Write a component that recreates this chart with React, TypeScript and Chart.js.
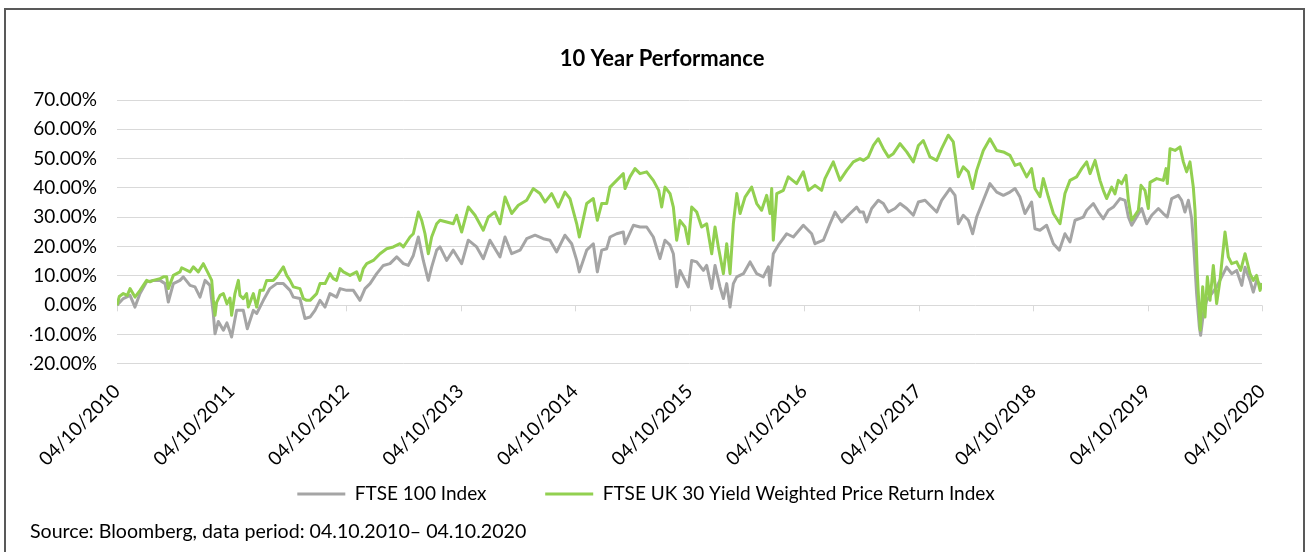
import React, { useEffect, useRef } from 'react';
import { Chart, registerables } from 'chart.js';

Chart.register(...registerables);

const xTickLabels = [
  '04/10/2010', '04/10/2011', '04/10/2012', '04/10/2013', '04/10/2014', '04/10/2015',
  '04/10/2016', '04/10/2017', '04/10/2018', '04/10/2019', '04/10/2020',
];

// years elapsed since 04/10/2010 for each FTSE 100 reading
const ftse100Years = [
  0, 0.055, 0.114, 0.157, 0.201, 0.259, 0.317, 0.376, 0.420, 0.448, 0.492, 0.550, 0.579, 0.638, 0.681,
  0.725, 0.769, 0.812, 0.841, 0.856, 0.885, 0.929, 0.960, 0.987, 1.001, 1.045, 1.103, 1.138, 1.191, 1.220,
  1.278, 1.335, 1.394, 1.453, 1.511, 1.540, 1.598, 1.642, 1.686, 1.729, 1.773, 1.817, 1.860, 1.918, 1.948,
  2.006, 2.064, 2.122, 2.166, 2.210, 2.268, 2.326, 2.384, 2.443, 2.501, 2.544, 2.588, 2.632, 2.675, 2.719,
  2.748, 2.792, 2.821,
  2.879, 2.937, 3.010, 3.068, 3.141, 3.199, 3.257, 3.345, 3.389, 3.447, 3.520, 3.578, 3.651, 3.723, 3.781,
  3.840, 3.912, 3.971, 4.015, 4.038, 4.102, 4.160, 4.195, 4.233, 4.277, 4.306, 4.364, 4.422, 4.437, 4.510,
  4.568, 4.626, 4.684, 4.742, 4.786, 4.830, 4.859, 4.888, 4.917, 4.961, 4.990, 5.019, 5.063, 5.121, 5.150,
  5.194, 5.223, 5.266, 5.296, 5.325, 5.354, 5.383, 5.413, 5.471, 5.529, 5.587, 5.645, 5.689, 5.703, 5.732,
  5.776, 5.849, 5.907, 5.994, 6.067, 6.096, 6.169, 6.227, 6.271, 6.329, 6.402, 6.460, 6.489,
  6.518, 6.547, 6.591, 6.649, 6.693, 6.737, 6.795, 6.839, 6.897, 6.955, 6.999, 7.057, 7.100, 7.159, 7.202,
  7.275, 7.319, 7.348, 7.391, 7.435, 7.473, 7.508, 7.566, 7.624, 7.683, 7.741, 7.799, 7.843, 7.886, 7.930,
  7.988, 8.017, 8.061, 8.119, 8.178, 8.230, 8.279, 8.323, 8.367, 8.440,
  8.469, 8.527, 8.571, 8.614, 8.658, 8.702, 8.760, 8.804, 8.833, 8.862, 8.905, 8.949, 8.993, 9.037, 9.095,
  9.138, 9.173, 9.211, 9.269, 9.298, 9.327, 9.357, 9.386, 9.406, 9.429, 9.453, 9.464, 9.488, 9.517, 9.561,
  9.604, 9.648, 9.691, 9.735, 9.779, 9.823, 9.852, 9.895, 9.924, 9.953, 10.0,
];

// FTSE 100 Index performance (%)
const ftse100Values = [
  0.0, 2.3, 3.4, -0.6, 4.0, 8.0, 8.5, 8.5, 7.4, 1.1, 7.4, 8.5, 9.7, 6.8, 6.3,
  2.8, 8.5, 6.8, -2.8, -9.7, -5.5, -8.5, -6.0, -9.0, -10.8, -1.7, -1.7, -8.0, -1.7, -2.8,
  1.7, 5.7, 7.4, 7.4, 5.1, 2.8, 2.3, -4.5, -4.0, -1.7, 1.7, -0.6, 4.0, 2.8, 5.7,
  5.1, 5.1, 1.7, 5.7, 7.4, 10.8, 13.6, 14.2, 16.5, 14.2, 13.6, 17.0, 23.3, 15.3, 8.5,
  13.0, 18.8, 19.9,
  15.3, 18.8, 14.2, 22.2, 19.9, 15.9, 22.2, 16.5, 23.3, 17.6, 18.8, 22.7, 23.9, 22.7, 22.2,
  18.2, 23.9, 21.0, 15.3, 11.4, 18.8, 21.0, 11.4, 18.8, 19.3, 23.3, 24.4, 25.0, 21.0, 27.3,
  26.7, 26.7, 23.3, 15.9, 22.2, 20.5, 17.6, 6.3, 11.9, 8.5, 6.3, 15.3, 14.8, 11.9, 13.6,
  5.7, 13.6, 6.3, 2.3, 7.4, -0.6, 7.4, 9.7, 10.8, 14.8, 10.8, 9.7, 13.1, 6.8, 17.6,
  20.5, 24.4, 23.3, 27.3, 24.4, 21.0, 22.2, 27.8, 31.8, 28.4, 31.3, 33.5, 31.8,
  31.8, 28.4, 33.0, 35.8, 34.7, 31.8, 33.0, 34.7, 33.0, 30.7, 35.2, 35.8, 34.1, 31.8, 35.8,
  39.8, 37.5, 27.8, 30.7, 29.0, 24.4, 30.1, 35.8, 41.5, 38.6, 37.5, 38.6, 39.8, 36.9, 31.3,
  35.2, 26.1, 25.6, 27.3, 21.0, 18.8, 24.4, 21.6, 29.0, 30.1,
  32.4, 34.7, 31.8, 29.5, 32.4, 33.5, 36.4, 35.8, 30.1, 27.3, 30.1, 33.0, 27.8, 30.7, 33.0,
  31.3, 30.1, 36.4, 37.5, 35.8, 31.8, 35.8, 29.5, 18.8, 4.0, -7.4, -10.2, -2.8, 1.7, 4.0,
  6.3, 9.7, 13.0, 10.8, 11.9, 6.8, 13.0, 8.5, 4.5, 8.5, 6.3,
];

// years elapsed since 04/10/2010 for each FTSE UK 30 Yield Weighted reading
const yieldYears = [
  0, 0.02, 0.055, 0.09, 0.114, 0.157, 0.201, 0.259, 0.288, 0.317, 0.376, 0.405, 0.434, 0.448, 0.492,
  0.550, 0.565, 0.638, 0.667, 0.710, 0.754, 0.798, 0.827, 0.841, 0.856, 0.870, 0.900, 0.929, 0.960, 0.987,
  1.001, 1.030, 1.060, 1.074, 1.103, 1.132, 1.147, 1.191, 1.220, 1.249, 1.278, 1.307, 1.335, 1.365, 1.394,
  1.453, 1.482, 1.511, 1.540, 1.598, 1.627, 1.656, 1.686, 1.744, 1.773, 1.817, 1.860, 1.889, 1.918, 1.948,
  1.977, 2.035, 2.093, 2.122, 2.151, 2.181, 2.239, 2.297, 2.355, 2.413, 2.472, 2.501, 2.530, 2.559, 2.588,
  2.632, 2.661, 2.690, 2.719, 2.748, 2.792, 2.821,
  2.879, 2.937, 2.966, 3.010, 3.068, 3.127, 3.199, 3.243, 3.301, 3.345, 3.389, 3.447, 3.505, 3.578, 3.636,
  3.694, 3.738, 3.796, 3.854, 3.912, 3.956, 4.015, 4.038, 4.102, 4.160, 4.195, 4.233, 4.277, 4.306, 4.364,
  4.422, 4.437, 4.480, 4.524, 4.568, 4.626, 4.684, 4.731, 4.757, 4.786, 4.830, 4.859, 4.888, 4.917, 4.961,
  4.990, 5.019, 5.063, 5.106, 5.150, 5.194, 5.223, 5.252, 5.296, 5.325, 5.354, 5.383, 5.413, 5.442, 5.485,
  5.543, 5.587, 5.630, 5.674, 5.703, 5.718, 5.732, 5.762, 5.820, 5.863, 5.936, 5.994, 6.038, 6.096, 6.154,
  6.183, 6.256, 6.314, 6.373, 6.431, 6.489,
  6.518, 6.562, 6.606, 6.649, 6.693, 6.737, 6.780, 6.839, 6.897, 6.955, 6.999, 7.042, 7.100, 7.159, 7.202,
  7.260, 7.304, 7.348, 7.391, 7.435, 7.473, 7.508, 7.566, 7.624, 7.683, 7.741, 7.799, 7.843, 7.886, 7.945,
  7.988, 8.017, 8.061, 8.090, 8.134, 8.178, 8.236, 8.279, 8.323, 8.381, 8.425, 8.469, 8.498, 8.542, 8.585,
  8.614, 8.643, 8.687, 8.716, 8.745, 8.774, 8.812, 8.833, 8.862, 8.891, 8.920, 8.943, 8.978, 9.007, 9.022,
  9.080, 9.138, 9.162, 9.173, 9.197, 9.240, 9.284, 9.313, 9.342, 9.371, 9.400, 9.415, 9.435, 9.453, 9.461,
  9.482, 9.502, 9.523, 9.546, 9.575, 9.604, 9.633, 9.677, 9.706, 9.735, 9.779, 9.814, 9.852, 9.895, 9.924,
  9.953, 9.983, 10.0,
];

// FTSE UK 30 Yield Weighted Price Return Index performance (%)
const yieldValues = [
  0.0, 3.0, 4.0, 3.4, 5.7, 2.8, 5.1, 8.5, 8.0, 8.5, 9.1, 9.7, 9.7, 5.7, 10.2,
  11.4, 12.8, 11.4, 13.1, 11.4, 14.2, 10.8, 8.5, 2.0, -3.4, 1.0, 3.4, 4.0, 0.5, 2.5,
  -3.4, 4.0, 8.5, 3.4, 2.3, 4.0, -0.6, 4.0, -0.6, 5.1, 5.1, 8.5, 8.5, 8.5, 9.7,
  13.1, 10.2, 8.5, 6.3, 5.7, 2.3, 1.7, 1.7, 4.0, 7.4, 7.4, 10.8, 9.1, 8.5, 12.5,
  11.4, 10.2, 11.4, 8.5, 12.5, 14.2, 15.3, 17.6, 19.3, 19.9, 21.0, 19.9, 21.6, 23.3, 24.4,
  31.8, 29.0, 24.4, 17.6, 23.3, 27.8, 29.0,
  28.4, 27.8, 30.7, 25.0, 33.5, 30.7, 25.6, 30.1, 31.8, 27.8, 36.9, 31.3, 34.1, 35.8, 39.8,
  38.1, 35.2, 38.1, 33.5, 38.6, 36.4, 27.8, 23.3, 34.7, 36.4, 29.0, 34.7, 34.7, 40.3, 42.6,
  44.9, 39.8, 43.8, 46.6, 44.9, 45.5, 42.6, 39.2, 33.5, 40.3, 38.1, 33.5, 22.2, 28.9, 26.7,
  21.0, 33.5, 31.8, 26.7, 27.8, 17.6, 26.7, 19.9, 10.8, 21.0, 10.8, 27.8, 38.1, 31.3, 36.9,
  40.3, 34.7, 32.4, 37.5, 31.3, 39.8, 22.2, 38.1, 39.2, 43.8, 41.5, 45.5, 39.2, 40.9, 39.2,
  43.2, 48.9, 42.6, 46.0, 48.9, 50.0,
  49.4, 50.6, 54.5, 56.8, 53.4, 50.6, 51.7, 55.1, 52.3, 48.9, 54.5, 56.2, 50.6, 49.4, 53.4,
  58.0, 55.7, 43.8, 47.2, 45.5, 39.8, 46.0, 52.8, 56.8, 52.8, 52.3, 51.1, 47.7, 48.3, 43.8,
  46.6, 39.8, 37.0, 43.2, 37.0, 31.3, 27.8, 38.1, 42.6, 43.8, 46.6, 48.9, 44.9, 49.4, 42.6,
  39.2, 36.4, 40.3, 38.0, 42.6, 41.5, 44.3, 35.8, 29.0, 30.7, 32.4, 40.9, 39.2, 33.0, 41.9,
  43.2, 42.6, 46.6, 41.5, 53.4, 52.8, 54.0, 48.9, 45.5, 48.9, 40.3, 32.4, 10.8, -2.8, -8.5,
  6.3, -4.0, 9.7, 1.7, 13.6, 0.6, 8.5, 25.0, 16.5, 14.2, 14.8, 11.9, 17.6, 10.8, 8.5,
  10.2, 5.1, 7.6,
];

const FONT = 'Lato, "Open Sans", sans-serif';
const LEGEND_GAP = '          ';
const TITLE_INDENT = '      ';

const zeroAxisTicks = {
  id: 'zeroAxisTicks',
  beforeDatasetsDraw(chart: any) {
    const { ctx, scales } = chart;
    const xs = scales.x;
    const ys = scales.y;
    const y0 = ys.getPixelForValue(0);
    ctx.save();
    ctx.strokeStyle = '#D9D9D9';
    ctx.lineWidth = 1;
    xs.ticks.forEach((t: any) => {
      const px = Math.round(xs.getPixelForValue(t.value)) + 0.5;
      ctx.beginPath();
      ctx.moveTo(px, y0);
      ctx.lineTo(px, y0 + 6);
      ctx.stroke();
    });
    ctx.restore();
  },
};

export default function App() {
  const ref = useRef<HTMLCanvasElement>(null);

  useEffect(() => {
    if (!ref.current) return;
    const chart = new Chart(ref.current, {
      type: 'line',
      data: {
        datasets: [
          {
            label: 'FTSE 100 Index',
            data: ftse100Years.map((x, i) => ({ x, y: ftse100Values[i] })),
            borderColor: '#A5A5A5',
            backgroundColor: '#A5A5A5',
            borderWidth: 3,
            pointRadius: 0,
            tension: 0,
            borderJoinStyle: 'round',
            order: 2,
          },
          {
            label: 'FTSE UK 30 Yield Weighted Price Return Index',
            data: yieldYears.map((x, i) => ({ x, y: yieldValues[i] })),
            borderColor: '#92D050',
            backgroundColor: '#92D050',
            borderWidth: 3,
            pointRadius: 0,
            tension: 0,
            borderJoinStyle: 'round',
            order: 1,
          },
        ],
      },
      options: {
        responsive: false,
        animation: false,
        events: [],
        layout: { padding: { left: 24, right: 41, top: 0, bottom: 0 } },
        scales: {
          x: {
            type: 'linear',
            min: 0,
            max: 10,
            afterFit: (s: any) => { s.height = 110.5; },
            grid: { display: false, drawTicks: false },
            border: { display: false },
            ticks: {
              stepSize: 1,
              autoSkip: false,
              minRotation: 45,
              maxRotation: 45,
              padding: 16,
              color: '#000',
              font: { family: FONT, size: 19 },
              callback: (v: any) => xTickLabels[Math.round(Number(v))],
            },
          },
          y: {
            min: -20,
            max: 70,
            afterFit: (s: any) => { s.width = 87; },
            grid: { color: '#D9D9D9', lineWidth: 1, drawTicks: false },
            border: { display: false },
            ticks: {
              stepSize: 10,
              padding: 20,
              color: '#000',
              font: { family: FONT, size: 19 },
              callback: (v: any) => Number(v).toFixed(2) + '%',
            },
          },
        },
        plugins: {
          title: {
            display: true,
            text: TITLE_INDENT + '10 Year Performance',
            color: '#000',
            font: { family: FONT, size: 22, weight: 'bold' },
            padding: { top: 35.8, bottom: 27.8 },
          },
          subtitle: {
            display: true,
            position: 'bottom',
            align: 'start',
            text: 'Source: Bloomberg, data period: 04.10.2010– 04.10.2020',
            color: '#000',
            font: { family: FONT, size: 19.6 },
            padding: { top: 6, bottom: 15 },
          },
          legend: {
            position: 'bottom',
            labels: {
              usePointStyle: true,
              pointStyle: 'line',
              pointStyleWidth: 48,
              padding: 10,
              color: '#000',
              font: { family: FONT, size: 19 },
              sort: (a: any, b: any) => a.datasetIndex - b.datasetIndex,
              generateLabels: (c: any) => {
                const items = Chart.defaults.plugins.legend.labels.generateLabels(c);
                return items.map((it: any) =>
                  it.datasetIndex === 0 ? { ...it, text: it.text + LEGEND_GAP } : it,
                );
              },
            },
          },
          tooltip: { enabled: false },
        },
      } as any,
      plugins: [zeroAxisTicks],
    });
    return () => chart.destroy();
  }, []);

  return (
    <div
      style={{
        position: 'absolute',
        left: 4,
        top: 8,
        width: 1297,
        height: 548,
        border: '2px solid #595959',
        background: '#fff',
      }}
    >
      <canvas ref={ref} width={1297} height={548} style={{ display: 'block' }} />
    </div>
  );
}
